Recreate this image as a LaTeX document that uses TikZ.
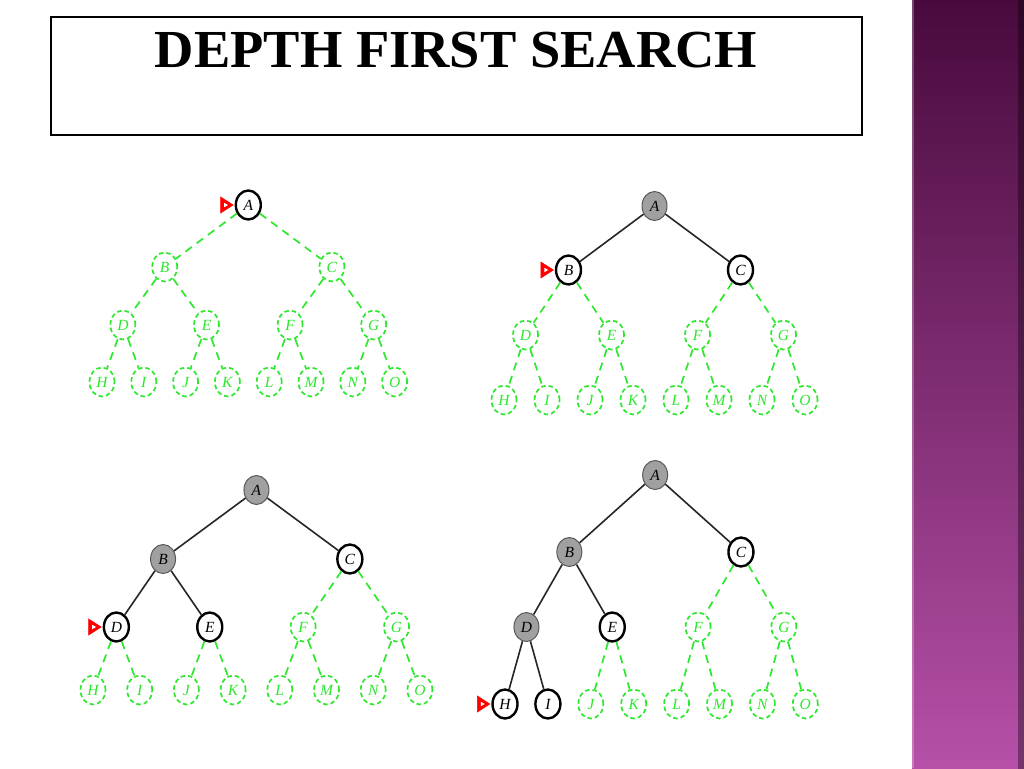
\documentclass[tikz,border=0pt]{standalone}
\usepackage{fontspec}
\setmainfont{Liberation Serif}
\usetikzlibrary{shapes.geometric}
\definecolor{grn}{RGB}{45,232,45}
\definecolor{vis}{RGB}{160,160,160}
\definecolor{barTop}{RGB}{72,10,60}
\definecolor{barBot}{RGB}{182,80,168}
\tikzset{
  tn/.style={ellipse, minimum width=25pt, minimum height=29pt, inner sep=0pt,
    font=\itshape\fontsize{15.5}{15.5}\selectfont},
  unv/.style={tn, draw=grn, line width=1.7pt, dash pattern=on 4.5pt off 3pt, text=grn},
  cur/.style={draw=black, solid, line width=2.4pt, text=black, fill=white},
  seen/.style={draw=black!65, solid, line width=1pt, text=black, fill=vis},
  gedge/.style={draw=grn, line width=1.7pt, dash pattern=on 8pt off 6pt},
  bedge/.style={draw=black!85, solid, line width=1.6pt},
  ptrshape/.style={fill=red, draw=red, line width=0.6pt},
  titlebox/.style={draw=black, line width=1.6pt},
  % node states
  st-T1A/.style=cur,
  st-T2A/.style=seen, st-T2B/.style=cur, st-T2C/.style=cur,
  st-T3A/.style=seen, st-T3B/.style=seen, st-T3C/.style=cur, st-T3D/.style=cur, st-T3E/.style=cur,
  st-T4A/.style=seen, st-T4B/.style=seen, st-T4D/.style=seen, st-T4C/.style=cur,
  st-T4E/.style=cur, st-T4H/.style=cur, st-T4I/.style=cur,
  % explored edges
  ed-T2AB/.style=bedge, ed-T2AC/.style=bedge,
  ed-T3AB/.style=bedge, ed-T3AC/.style=bedge, ed-T3BD/.style=bedge, ed-T3BE/.style=bedge,
  ed-T4AB/.style=bedge, ed-T4AC/.style=bedge, ed-T4BD/.style=bedge, ed-T4BE/.style=bedge,
  ed-T4DH/.style=bedge, ed-T4DI/.style=bedge,
}
% #1 prefix, #2 x of leftmost leaf, #3 leaf spacing, #4..#7 level y's
\newcommand\drawtree[7]{%
  \foreach \n/\k/\yy in {H/0/#7,I/1/#7,J/2/#7,K/3/#7,L/4/#7,M/5/#7,N/6/#7,O/7/#7,
                         D/0.5/#6,E/2.5/#6,F/4.5/#6,G/6.5/#6,B/1.5/#5,C/5.5/#5,A/3.5/#4}{%
    \pgfmathsetmacro\xx{#2+\k*#3}%
    \edef\tmp{\noexpand\node[unv, st-#1\n/.try] (#1\n) at (\xx,\yy) {\n};}\tmp
  }%
  \foreach \p/\c in {A/B,A/C,B/D,B/E,C/F,C/G,D/H,D/I,E/J,E/K,F/L,F/M,G/N,G/O}{%
    \edef\tmp{\noexpand\draw[gedge, ed-#1\p\c/.try] (#1\p) -- (#1\c);}\tmp
  }%
}
\newcommand\ptrat[1]{%
  \filldraw[ptrshape] ([xshift=-14pt,yshift=-8pt]#1.west) -- ([xshift=-14pt,yshift=8pt]#1.west)
     -- ([xshift=-1.5pt]#1.west) -- cycle;
  \fill[white] ([xshift=-10.5pt,yshift=-2.2pt]#1.west) -- ([xshift=-10.5pt,yshift=2.2pt]#1.west)
     -- ([xshift=-6.5pt]#1.west) -- cycle;
}
\begin{document}
\begin{tikzpicture}[x=1pt,y=-1pt]
  \useasboundingbox (0,0) rectangle (1024,768);
  \fill[white] (0,0) rectangle (1024,768);
  % side bar
  \shade[top color=barTop, bottom color=barBot] (912,0) rectangle (1024,768);
  \shade[left color=barBot!0!black, right color=black, opacity=0.35] (1018,0) rectangle (1024,768);
  \fill[white, opacity=0.25] (912,0) rectangle (913.5,768);
  % title
  \draw[titlebox] (51,17) rectangle (862,135);
  \node[inner sep=0pt, anchor=base] (title) at (456,68)
    {\resizebox{602pt}{\height}{\fontsize{53.5}{53.5}\selectfont\bfseries DEPTH FIRST SEARCH}};
  % trees
  \drawtree{T1}{102}{41.8}{205}{267}{325}{382}
  \drawtree{T2}{504}{43}{206}{270}{335}{400}
  \drawtree{T3}{93}{46.7}{490}{559}{627}{690}
  \drawtree{T4}{505}{42.9}{475}{552}{627}{704}
  \ptrat{T1A}
  \ptrat{T2B}
  \ptrat{T3D}
  \ptrat{T4H}
\end{tikzpicture}
\end{document}
